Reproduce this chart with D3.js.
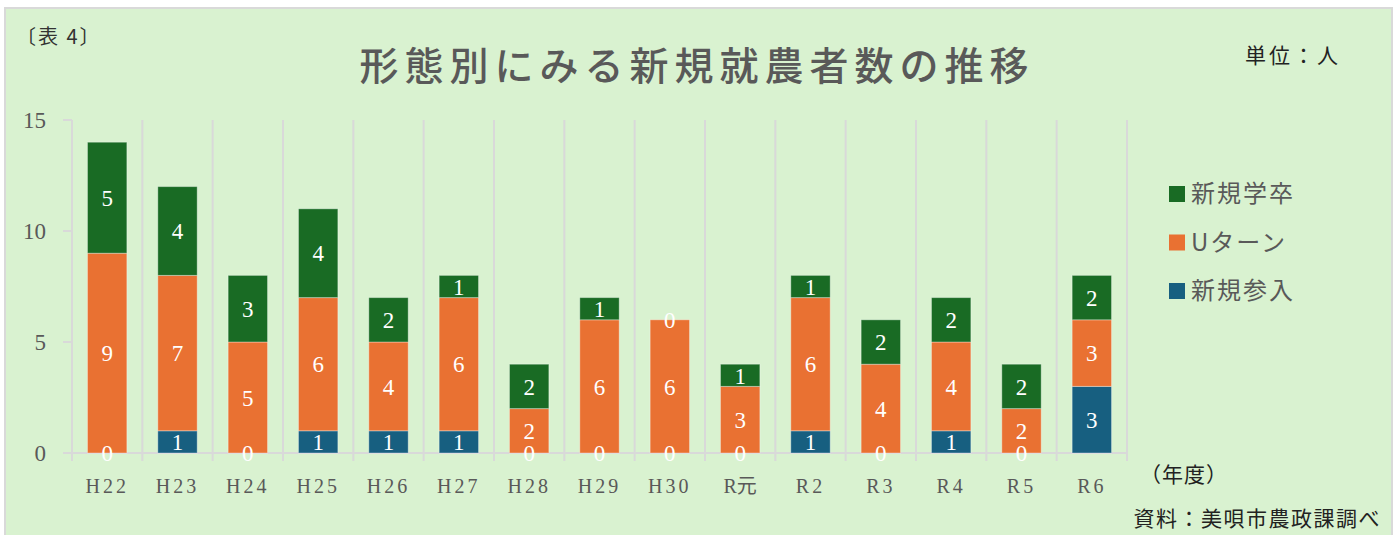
<!DOCTYPE html>
<html>
<head>
<meta charset="utf-8">
<script src="https://cdn.jsdelivr.net/npm/d3@7"></script>
<style>
  html, body { margin: 0; padding: 0; background: #ffffff; }
  svg { display: block; }
</style>
</head>
<body>
<div id="chart"></div>
<script>
// ---- data ----
const years      = ['H22','H23','H24','H25','H26','H27','H28','H29','H30','R元','R2','R3','R4','R5','R6'];
const newEntry   = [0, 1, 0, 1, 1, 1, 0, 0, 0, 0, 1, 0, 1, 0, 3];   // 新規参入
const uTurn      = [9, 7, 5, 6, 4, 6, 2, 6, 6, 3, 6, 4, 4, 2, 3];   // Uターン
const newGrad    = [5, 4, 3, 4, 2, 1, 2, 1, 0, 1, 1, 2, 2, 2, 2];   // 新規学卒
const seriesKeys   = ['新規参入', 'Uターン', '新規学卒'];
const seriesColors = ['#175f80', '#e97132', '#196b24'];
const yTicks     = [0, 5, 10, 15];

const W = 1400, H = 535;
const serifJP = '"Liberation Serif", "Noto Sans CJK JP", serif';
const sansJP  = '"Noto Sans CJK JP", sans-serif';

const svg = d3.select('#chart').append('svg')
    .attr('width', W).attr('height', H);

// cadre
svg.append('rect')
    .attr('x', 5).attr('y', 8)
    .attr('width', 1387).attr('height', 540)
    .attr('fill', '#d9f2d0')
    .attr('stroke', '#d9d9d9').attr('stroke-width', 2);

// lignes pour d3.stack
const rows = years.map((y, i) => ({
    year: y,
    '新規参入': newEntry[i],
    'Uターン': uTurn[i],
    '新規学卒': newGrad[i]
}));
const stacked = d3.stack().keys(seriesKeys)(rows);

const x = d3.scaleBand().domain(years).range([72, 1127]).paddingInner(0).paddingOuter(0);
const y = d3.scaleLinear().domain([0, 15]).range([453, 120]);
const barW = x.bandwidth() * 0.56;

// séparateurs verticaux entre catégories
const gGrid = svg.append('g');
d3.range(years.length + 1).forEach(i => {
    const gx = 72 + i * x.bandwidth();
    gGrid.append('line')
        .attr('x1', gx).attr('x2', gx)
        .attr('y1', y(15)).attr('y2', 461)
        .attr('stroke', '#d9d9d9').attr('stroke-width', 2);
});

// axe y : graduations + libellés
yTicks.forEach(t => {
    svg.append('line')
        .attr('x1', 63).attr('x2', 72)
        .attr('y1', y(t)).attr('y2', y(t))
        .attr('stroke', '#d9d9d9').attr('stroke-width', 2);
    svg.append('text')
        .attr('x', 46).attr('y', y(t))
        .attr('dy', '0.35em')
        .attr('text-anchor', 'end')
        .attr('font-family', serifJP).attr('font-size', 23)
        .attr('fill', '#595959')
        .text(t);
});

// ligne de base
svg.append('line')
    .attr('x1', 63).attr('x2', 1127)
    .attr('y1', y(0)).attr('y2', y(0))
    .attr('stroke', '#d9d9d9').attr('stroke-width', 2);

// barres
stacked.forEach((s, si) => {
    svg.append('g').selectAll('rect')
        .data(s)
        .join('rect')
        .attr('x', d => x(d.data.year) + (x.bandwidth() - barW) / 2)
        .attr('width', barW)
        .attr('y', d => y(d[1]))
        .attr('height', d => y(d[0]) - y(d[1]))
        .attr('fill', seriesColors[si])
        .attr('stroke', d => d[1] > d[0] ? 'rgba(255,255,255,0.35)' : 'none')
        .attr('stroke-width', 1);
});

// étiquettes de valeur
stacked.forEach((s, si) => {
    svg.append('g').selectAll('text')
        .data(s)
        .join('text')
        .attr('x', d => x(d.data.year) + x.bandwidth() / 2)
        .attr('y', d => (y(d[0]) + y(d[1])) / 2)
        .attr('dy', '0.36em')
        .attr('text-anchor', 'middle')
        .attr('font-family', serifJP).attr('font-size', 23)
        .attr('fill', '#ffffff')
        .text(d => d[1] - d[0]);
});

// libellés x
svg.append('g').selectAll('text')
    .data(years)
    .join('text')
    .attr('x', d => x(d) + x.bandwidth() / 2)
    .attr('y', 486)
    .attr('dy', '0.35em')
    .attr('text-anchor', 'middle')
    .attr('font-family', serifJP).attr('font-size', 20)
    .attr('letter-spacing', d => /^[A-Z]\d+$/.test(d) ? 3 : 0)
    .attr('fill', '#595959')
    .text(d => d);

// titre
svg.append('text')
    .attr('x', 697).attr('y', 66)
    .attr('dy', '0.35em')
    .attr('text-anchor', 'middle')
    .attr('font-family', sansJP).attr('font-size', 39)
    .attr('font-weight', 500)
    .attr('letter-spacing', 6)
    .attr('fill', '#595959')
    .text('形態別にみる新規就農者数の推移');

// notes
svg.append('text')
    .attr('x', 16).attr('y', 37).attr('dy', '0.35em')
    .attr('font-family', sansJP).attr('font-size', 20)
    .attr('letter-spacing', 2)
    .attr('fill', '#333333')
    .text('〔表 4〕');

svg.append('text')
    .attr('x', 1245).attr('y', 56).attr('dy', '0.35em')
    .attr('font-family', sansJP).attr('font-size', 21)
    .attr('letter-spacing', 3)
    .attr('fill', '#222222')
    .text('単位：人');

svg.append('text')
    .attr('x', 1140).attr('y', 475).attr('dy', '0.35em')
    .attr('font-family', sansJP).attr('font-size', 21)
    .attr('letter-spacing', 1)
    .attr('fill', '#222222')
    .text('（年度）');

svg.append('text')
    .attr('x', 1381).attr('y', 519).attr('dy', '0.35em')
    .attr('text-anchor', 'end')
    .attr('font-family', sansJP).attr('font-size', 21)
    .attr('letter-spacing', 1.5)
    .attr('fill', '#222222')
    .text('資料：美唄市農政課調べ');

// légende (haut = 新規学卒)
const legendItems = seriesKeys.map((k, i) => ({ key: k, color: seriesColors[i] })).reverse();
const lg = svg.append('g').selectAll('g')
    .data(legendItems)
    .join('g')
    .attr('transform', (d, i) => `translate(1169, ${194 + i * 48.5})`);
lg.append('rect')
    .attr('x', 0).attr('y', -8)
    .attr('width', 16).attr('height', 16)
    .attr('fill', d => d.color);
lg.append('text')
    .attr('x', 22).attr('y', 0).attr('dy', '0.35em')
    .attr('font-family', sansJP).attr('font-size', 24)
    .attr('letter-spacing', 2)
    .attr('fill', '#595959')
    .text(d => d.key);
</script>
</body>
</html>
